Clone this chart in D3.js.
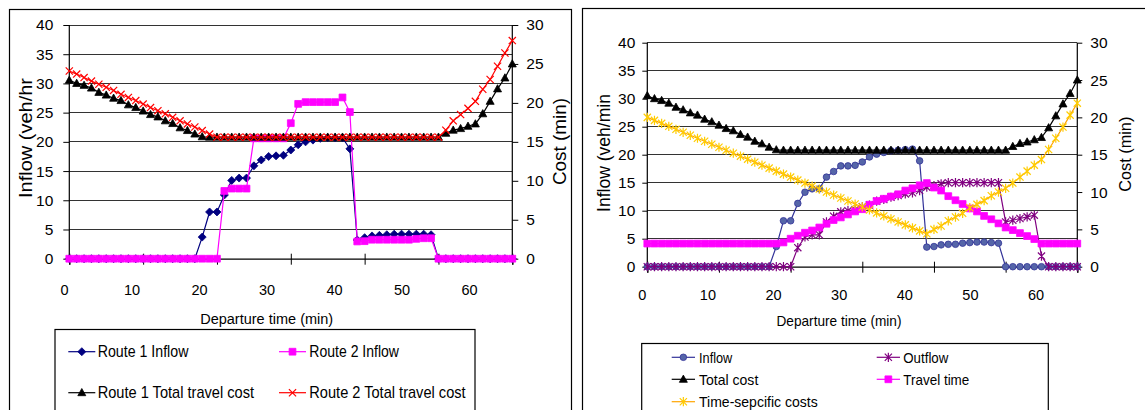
<!DOCTYPE html>
<html>
<head>
<meta charset="utf-8">
<script src="https://cdn.jsdelivr.net/npm/d3@7"></script>
<style>
  html, body { margin: 0; padding: 0; background: #fff; }
  svg { display: block; }
  text { font-family: "Liberation Sans", Arial, Helvetica, sans-serif; fill: #000; }
</style>
</head>
<body>
<svg id="chart" width="1145" height="410"></svg>
<script>
// Departure times (min)
const minutes = [0,1,2,3,4,5,6,7,8,9,10,11,12,13,14,15,16,17,18,19,20,
  21,22,23,24,25,26,27,28,29,30,31,32,33,34,35,36,37,38,39,40,
  41,42,43,44,45,46,47,48,49,50,51,52,53,54,55,56,57,58,59,60];

// Route choice panel: inflows (veh/hr) and total travel costs (min)
const route1Inflow = [0,0,0,0,0,0,0,0,0,0,0,0,0,0,0,0,0,0,
  3.7,8.0,8.0,10.9,13.4,13.8,13.8,15.9,16.9,17.5,17.6,17.7,18.6,19.5,20.0,20.3,20.6,20.7,20.7,20.7,18.8,
  3.2,3.6,3.9,4.0,4.1,4.2,4.2,4.2,4.2,4.2,4.1,
  0,0,0,0,0,0,0,0,0,0,0];
const route2Inflow = [0,0,0,0,0,0,0,0,0,0,0,0,0,0,0,0,0,0,0,0,0,
  11.6,12.0,12.0,12.0,20.6,20.6,20.6,20.6,20.6,23.2,26.5,26.8,26.8,26.8,26.8,26.8,27.6,25.1,
  2.95,3.0,3.25,3.25,3.25,3.25,3.25,3.25,3.4,3.5,3.5,
  0,0,0,0,0,0,0,0,0,0,0];
const route1Cost = [22.9,22.5,22.25,21.9,21.35,21.0,20.6,20.3,19.75,19.4,18.95,18.5,18.2,17.7,17.35,16.8,16.45,16.0,15.65,15.6,
  15.6,15.6,15.6,15.6,15.6,15.6,15.6,15.6,15.6,15.6,15.6,15.6,15.6,15.6,15.6,15.6,15.6,15.6,15.6,15.6,
  15.6,15.6,15.6,15.6,15.6,15.6,15.6,15.6,15.6,15.6,15.6,
  16.1,16.5,16.7,17.0,17.3,18.6,20.2,21.8,23.2,25.0];
const route2Cost = [24.1,23.7,23.25,22.8,22.4,22.0,21.6,21.1,20.7,20.3,19.85,19.4,19.0,18.6,18.15,17.7,17.3,16.9,16.45,16.0,15.6,
  15.6,15.6,15.6,15.6,15.6,15.6,15.6,15.6,15.6,15.6,15.6,15.6,15.6,15.6,15.6,
  15.6,15.6,15.6,15.6,15.6,15.6,15.6,15.6,15.6,15.6,15.6,15.6,15.6,15.6,15.6,
  16.5,17.7,18.5,19.3,20.2,21.75,23.0,24.7,26.4,28.0];

// Route 1 detail panel: flows (veh/min) and cost components (min)
const linkInflow = [0,0,0,0,0,0,0,0,0,0,0,0,0,0,0,0,0,0,
  3.6,8.2,8.2,11.3,13.3,13.9,13.9,16.0,17.0,18.0,18.0,18.1,18.7,19.6,20.1,20.4,20.7,20.8,20.9,21.0,18.9,
  3.5,3.6,3.9,4.0,4.0,4.2,4.3,4.4,4.4,4.3,4.2,
  0,0,0,0,0,0,0,0,0,0,0];
const linkOutflow = [0,0,0,0,0,0,0,0,0,0,0,0,0,0,0,0,0,0,0,0,0,
  3.4,5.3,5.7,5.7,8.0,9.0,9.8,10.0,10.2,10.7,11.0,11.7,12.0,12.4,12.7,13.0,13.2,13.6,14.2,14.5,14.8,
  15.0,15.0,15.0,15.0,15.0,15.0,15.0,15.0,
  8.0,8.3,8.6,8.9,9.2,1.9,
  0,0,0,0,0];
const totalCost = route1Cost;
const travelTime = [3.1,3.1,3.1,3.1,3.1,3.1,3.1,3.1,3.1,3.1,3.1,3.1,3.1,3.1,3.1,3.1,3.1,3.1,3.1,
  3.25,3.75,4.15,4.55,4.85,5.25,5.75,6.25,6.6,7.0,7.4,7.7,8.3,8.8,9.1,9.4,9.7,10.2,10.5,10.9,11.2,
  10.6,10.2,9.45,8.9,8.4,7.8,7.4,6.8,6.35,5.8,5.25,4.9,4.5,4.1,3.7,
  3.1,3.1,3.1,3.1,3.1,3.1];
const timeSpecificCost = [20.0,19.6,19.2,18.8,18.4,18.0,17.6,17.2,16.8,16.4,16.0,15.6,15.2,14.8,14.4,14.0,
  13.6,13.2,12.8,12.4,12.0,11.6,11.2,10.8,10.4,10.0,9.6,9.2,8.8,8.4,8.0,7.6,7.2,6.8,6.4,6.0,5.6,5.2,4.8,4.4,
  5.0,5.45,6.15,6.65,7.15,7.9,8.35,8.85,9.5,10.0,10.5,11.2,12.0,12.8,13.6,14.35,15.7,17.2,18.7,20.3,21.9];

// Axis tick values
const flowTicks = [0,5,10,15,20,25,30,35,40];
const costTicks = [0,5,10,15,20,25,30];
const timeTicks = [0,10,20,30,40,50,60];

const svg = d3.select("#chart");

const markerPaths = {
  diamond: "M0,-4L4,0L0,4L-4,0Z",
  square: "M-3.4,-3.4H3.4V3.4H-3.4Z",
  triangle: "M0,-4.2L4,3L-4,3Z",
  cross: "M-3.6,-3.6L3.6,3.6M-3.6,3.6L3.6,-3.6",
  star: "M-3.6,-3.6L3.6,3.6M-3.6,3.6L3.6,-3.6M0,-4.6V4.6",
  circle: "M3.3,0A3.3,3.3 0 1,1 -3.3,0A3.3,3.3 0 1,1 3.3,0Z"
};

function drawMarker(g, s, x, y) {
  const open = s.marker === "cross" || s.marker === "star";
  g.append("path")
    .attr("d", markerPaths[s.marker])
    .attr("transform", `translate(${x},${y})`)
    .attr("fill", open ? "none" : s.fill)
    .attr("stroke", s.markerStroke || s.fill)
    .attr("stroke-width", open ? 1.2 : 0.8);
}

function drawPanel(cfg) {
  const g = svg.append("g");

  // outer chart border
  g.append("rect")
    .attr("x", cfg.frame[0]).attr("y", cfg.frame[1])
    .attr("width", cfg.frame[2]).attr("height", cfg.frame[3])
    .attr("fill", "none").attr("stroke", "#000").attr("stroke-width", 1.2);

  const x = d3.scaleLinear().domain([0, 60]).range([cfg.x0, cfg.x1]);
  const yL = d3.scaleLinear().domain([0, 40]).range([cfg.yBot, cfg.yTop]);
  const yR = d3.scaleLinear().domain([0, 30]).range([cfg.yBot, cfg.yTop]);
  const xLabel = d3.scaleLinear().domain([0, 60]).range(cfg.labelRange);

  // horizontal gridlines
  g.append("g").selectAll("line")
    .data(flowTicks.filter(d => d > 0))
    .join("line")
    .attr("x1", cfg.x0).attr("x2", cfg.x1)
    .attr("y1", d => yL(d)).attr("y2", d => yL(d))
    .attr("stroke", "#333").attr("stroke-width", 1)
    .attr("shape-rendering", "crispEdges");

  // left axis
  const axL = g.append("g").attr("transform", `translate(${cfg.x0},0)`)
    .call(d3.axisLeft(yL).tickValues(flowTicks).tickSize(cfg.tickSize).tickPadding(cfg.padL));
  // right axis
  const axR = g.append("g").attr("transform", `translate(${cfg.x1},0)`)
    .call(d3.axisRight(yR).tickValues(costTicks).tickSize(cfg.tickSize).tickPadding(cfg.padR));
  // bottom axis (ticks cross the line)
  const axB = g.append("g").attr("transform", `translate(0,${cfg.yBot})`)
    .call(d3.axisBottom(x).tickValues(timeTicks).tickSize(6).tickFormat(""));
  axB.selectAll(".tick line").attr("y1", -5);

  [axL, axR, axB].forEach(a => {
    a.select(".domain").attr("stroke", "#000").attr("stroke-width", 1.2);
    a.selectAll(".tick line").attr("stroke", "#000").attr("stroke-width", 1);
    a.selectAll(".tick text")
      .attr("font-family", '"Liberation Sans", Arial, sans-serif')
      .attr("font-size", cfg.tickFont).attr("fill", "#000");
  });
  axL.select(".domain").attr("d", `M0,${cfg.yTop}V${cfg.yBot}`);
  axR.select(".domain").attr("d", `M0,${cfg.yTop}V${cfg.yBot}`);

  // time labels under the axis
  g.append("g").selectAll("text")
    .data(timeTicks)
    .join("text")
    .attr("x", d => xLabel(d))
    .attr("y", cfg.labelBaseline)
    .attr("text-anchor", "middle")
    .attr("font-size", 14.5)
    .text(d => d);

  // axis titles
  const t = cfg.titles;
  g.append("text")
    .attr("transform", `translate(${t.left.x},${t.left.y}) rotate(-90)`)
    .attr("text-anchor", "middle").attr("dominant-baseline", "central")
    .attr("font-size", t.left.size)
    .attr("textLength", t.left.len).attr("lengthAdjust", "spacingAndGlyphs")
    .text(t.left.text);
  g.append("text")
    .attr("transform", `translate(${t.right.x},${t.right.y}) rotate(-90)`)
    .attr("text-anchor", "middle").attr("dominant-baseline", "central")
    .attr("font-size", t.right.size)
    .attr("textLength", t.right.len).attr("lengthAdjust", "spacingAndGlyphs")
    .text(t.right.text);
  g.append("text")
    .attr("x", t.bottom.x).attr("y", t.bottom.y)
    .attr("text-anchor", "middle")
    .attr("font-size", t.bottom.size)
    .attr("textLength", t.bottom.len).attr("lengthAdjust", "spacingAndGlyphs")
    .text(t.bottom.text);

  // series lines and markers
  cfg.series.forEach(s => {
    const y = s.axis === "left" ? yL : yR;
    const pts = minutes.map((m, i) => [x(m), y(s.values[i])]);
    g.append("path")
      .attr("d", d3.line()(pts))
      .attr("fill", "none")
      .attr("stroke", s.line)
      .attr("stroke-width", 1.2);
    const mg = g.append("g");
    pts.forEach(p => drawMarker(mg, s, p[0], p[1]));
  });

  // legend
  const L = cfg.legend;
  g.append("rect")
    .attr("x", L.box[0]).attr("y", L.box[1])
    .attr("width", L.box[2]).attr("height", L.box[3])
    .attr("fill", "#fff").attr("stroke", "#000").attr("stroke-width", 1.2);
  L.items.forEach(it => {
    const s = cfg.series[it.series];
    g.append("line")
      .attr("x1", it.lx).attr("x2", it.lx + L.lineLen)
      .attr("y1", it.y).attr("y2", it.y)
      .attr("stroke", s.line).attr("stroke-width", 1.2);
    drawMarker(g, s, it.lx + L.lineLen / 2, it.y);
    g.append("text")
      .attr("x", it.tx).attr("y", it.y)
      .attr("dominant-baseline", "central")
      .attr("font-size", L.font)
      .attr("textLength", it.len).attr("lengthAdjust", "spacingAndGlyphs")
      .text(it.label);
  });
}

// Left panel: two routes
drawPanel({
  frame: [9.5, 9.5, 562, 420],
  x0: 69.3, x1: 512.3, yTop: 25, yBot: 258.7,
  tickSize: 6, padL: 10, padR: 8, tickFont: 15.5,
  labelRange: [64.5, 469.5], labelBaseline: 295,
  titles: {
    left: { text: "Inflow (veh/hr", x: 25, y: 138, size: 19, len: 120 },
    right: { text: "Cost (min)", x: 560, y: 141.5, size: 18, len: 87 },
    bottom: { text: "Departure time (min)", x: 266.7, y: 324, size: 15.5, len: 133 }
  },
  series: [
    { values: route1Inflow, axis: "left", line: "#000080", fill: "#000080", marker: "diamond" },
    { values: route2Inflow, axis: "left", line: "#ff00ff", fill: "#ff00ff", marker: "square" },
    { values: route1Cost, axis: "right", line: "#000000", fill: "#000000", marker: "triangle" },
    { values: route2Cost, axis: "right", line: "#ff0000", fill: "#ff0000", marker: "cross", markerStroke: "#ff0000" }
  ],
  legend: {
    box: [55, 329.5, 420, 100], lineLen: 27, font: 17,
    items: [
      { series: 0, label: "Route 1 Inflow", lx: 68.3, tx: 97.7, y: 351.7, len: 90.7 },
      { series: 1, label: "Route 2 Inflow", lx: 279, tx: 309.3, y: 351.7, len: 89.7 },
      { series: 2, label: "Route 1 Total travel cost", lx: 68.3, tx: 97.7, y: 392.7, len: 156.3 },
      { series: 3, label: "Route 2 Total travel cost", lx: 279, tx: 309.3, y: 392.7, len: 156.3 }
    ]
  }
});

// Right panel: flows and cost components
drawPanel({
  frame: [582.5, 8.5, 600, 420],
  x0: 647.3, x1: 1077.3, yTop: 42.7, yBot: 266.7,
  tickSize: 5, padL: 7, padR: 8, tickFont: 15.5,
  labelRange: [642.3, 1036], labelBaseline: 300,
  titles: {
    left: { text: "Inflow (veh/min", x: 604, y: 153, size: 18, len: 118 },
    right: { text: "Cost (min)", x: 1125, y: 154.2, size: 16, len: 75 },
    bottom: { text: "Departure time (min)", x: 839, y: 326, size: 15, len: 125 }
  },
  series: [
    { values: linkInflow, axis: "left", line: "#333399", fill: "#5565a8", markerStroke: "#333399", marker: "circle" },
    { values: linkOutflow, axis: "left", line: "#800080", fill: "#800080", marker: "star" },
    { values: totalCost, axis: "right", line: "#000000", fill: "#000000", marker: "triangle" },
    { values: travelTime, axis: "right", line: "#ff00ff", fill: "#ff00ff", marker: "square" },
    { values: timeSpecificCost, axis: "right", line: "#ffa500", fill: "#ffcc00", markerStroke: "#ffcc00", marker: "star" }
  ],
  legend: {
    box: [641.7, 343.5, 406.6, 100], lineLen: 23.3, font: 15,
    items: [
      { series: 0, label: "Inflow", lx: 671.7, tx: 699, y: 357.3, len: 33.3 },
      { series: 1, label: "Outflow", lx: 876.7, tx: 903.3, y: 357.3, len: 45 },
      { series: 2, label: "Total cost", lx: 671.7, tx: 699, y: 379.3, len: 59.3 },
      { series: 3, label: "Travel time", lx: 876.7, tx: 903.3, y: 379.3, len: 66 },
      { series: 4, label: "Time-sepcific costs", lx: 671.7, tx: 699, y: 401.7, len: 118.7 }
    ]
  }
});
</script>
</body>
</html>
